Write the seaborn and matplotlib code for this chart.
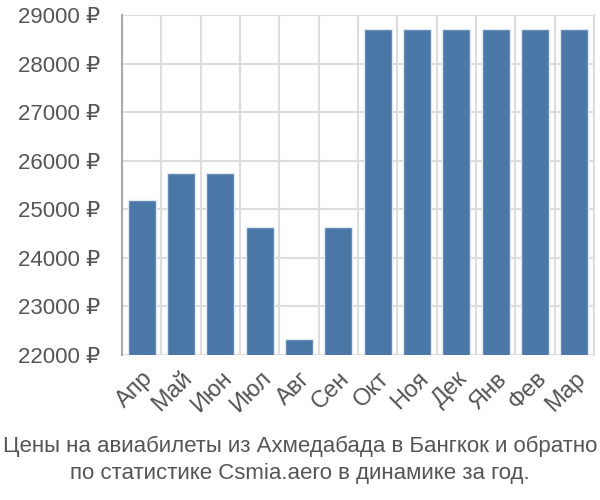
import numpy as np
import pandas as pd
import matplotlib
matplotlib.use('Agg')
import matplotlib.pyplot as plt
import seaborn as sns

# Data
months = ['Апр', 'Май', 'Июн', 'Июл', 'Авг', 'Сен', 'Окт', 'Ноя', 'Дек', 'Янв', 'Фев', 'Мар']
prices = [25190, 25750, 25750, 24630, 22330, 24630, 28710, 28710, 28710, 28710, 28710, 28710]
yticks = [22000, 23000, 24000, 25000, 26000, 27000, 28000, 29000]

df = pd.DataFrame({'month': months, 'price': prices})

sns.set_style('white')
plt.rcParams['font.family'] = ['Liberation Sans', 'DejaVu Sans']
text_color = '#555555'

fig = plt.figure(figsize=(6, 5), dpi=100)
ax = fig.add_axes([122 / 600, 1 - 355 / 500, (594 - 122) / 600, (355 - 15) / 500])

sns.barplot(data=df, x='month', y='price', color='#4c78a8', saturation=1,
            width=0.72, edgecolor='#dfe7f0', linewidth=1, ax=ax, zorder=3)

ax.set_ylim(22000, 29000)
ax.set_xlim(-0.5, len(months) - 0.5)
ax.set_yticks(yticks)
ax.set_yticklabels([f'{v} ₽' for v in yticks], fontsize=16, color=text_color)

# grid lines between categories
ax.set_xticks(np.arange(len(months)))
ax.set_xticks(np.arange(len(months) + 1) - 0.5, minor=True)
ax.set_xticklabels(months, rotation=45, ha='right', rotation_mode='anchor',
                   fontsize=17, color=text_color)
ax.tick_params(axis='x', which='major', length=0, pad=9)
ax.tick_params(axis='x', which='minor', length=14, color='#dddddd', width=1.5)
ax.tick_params(axis='y', length=14, color='#dddddd', width=1.5, pad=2)
ax.grid(axis='y', color='#dddddd', linewidth=1.5, zorder=0)
ax.grid(axis='x', which='minor', color='#dddddd', linewidth=1.5, zorder=0)
ax.set_axisbelow(True)
# first boundary tick is darker, like the left axis line
ax.xaxis.get_minor_ticks()[0].tick1line.set_color('#aaaaaa')

for s in ['top', 'bottom']:
    ax.spines[s].set_visible(False)
ax.spines['right'].set_color('#dddddd')
ax.spines['right'].set_linewidth(1.5)
ax.spines['left'].set_color('#aaaaaa')
ax.spines['left'].set_linewidth(1.5)

ax.set_xlabel('')
ax.set_ylabel('')

fig.text(0.5, 1 - 446 / 500, 'Цены на авиабилеты из Ахмедабада в Бангкок и обратно',
         ha='center', va='center', fontsize=16, color=text_color)
fig.text(0.5, 1 - 474 / 500, 'по статистике Csmia.aero в динамике за год.',
         ha='center', va='center', fontsize=16, color=text_color)

fig.savefig('out.png', dpi=100)
